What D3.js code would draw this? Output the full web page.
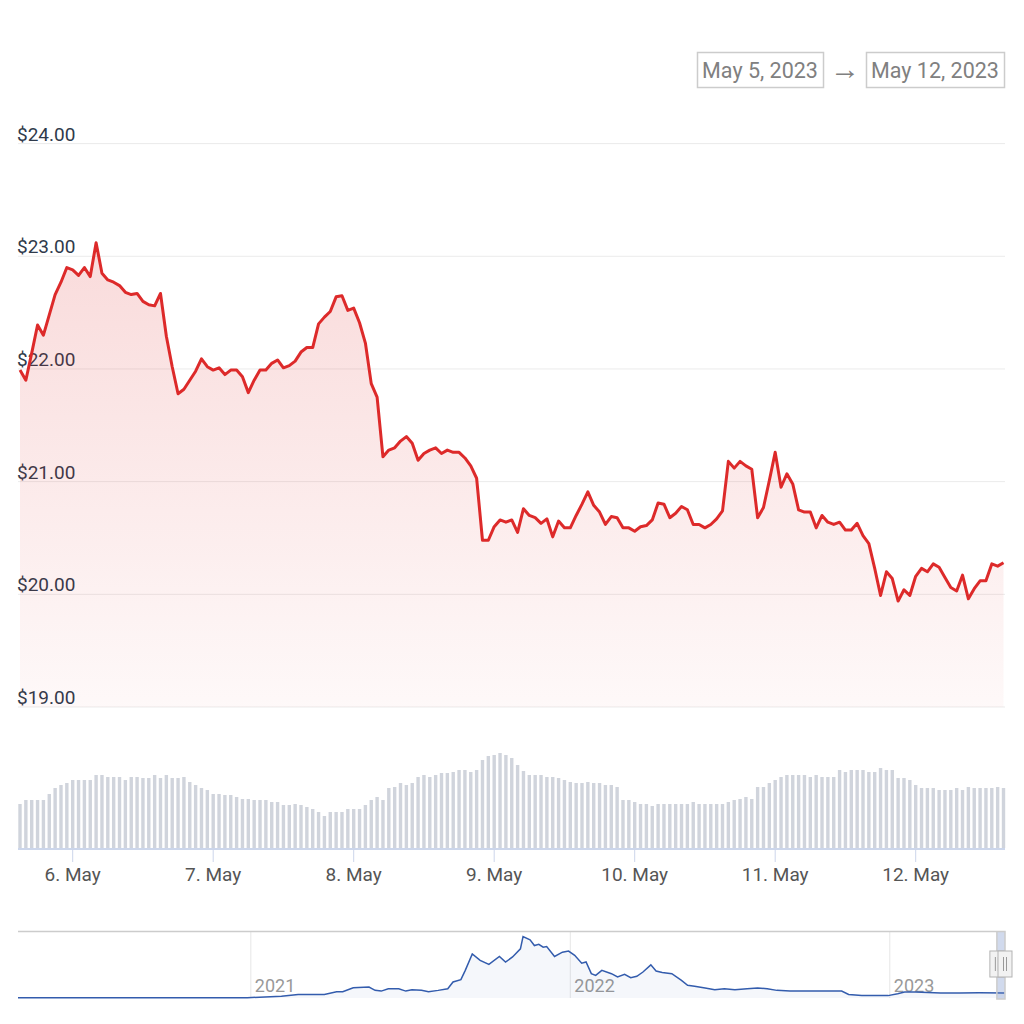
<!DOCTYPE html>
<html>
<head>
<meta charset="utf-8">
<title>SOL price chart</title>
<script src="https://cdn.jsdelivr.net/npm/d3@7"></script>
<style>
  body { margin: 0; background: #fff; }
  text { font-family: Roboto, "Noto Sans", sans-serif; }
</style>
</head>
<body>
<svg id="chart" width="1024" height="1024"></svg>
<script>
// hourly data, first point May 5 2023 15:00 UTC
const startTime = Date.UTC(2023, 4, 5, 15);

const prices = [
  21.99, 21.90, 22.14, 22.39, 22.30, 22.48, 22.66, 22.77, 22.90, 22.88,
  22.83, 22.90, 22.82, 23.12, 22.85, 22.79, 22.77, 22.74, 22.68, 22.66,
  22.67, 22.60, 22.57, 22.56, 22.67, 22.29, 22.02, 21.78, 21.82, 21.90,
  21.98, 22.09, 22.02, 21.99, 22.01, 21.95, 21.99, 21.99, 21.93, 21.79,
  21.90, 21.99, 21.99, 22.05, 22.08, 22.01, 22.03, 22.07, 22.15, 22.19,
  22.19, 22.40, 22.46, 22.51, 22.64, 22.65, 22.52, 22.54, 22.41, 22.23,
  21.87, 21.75, 21.22, 21.28, 21.30, 21.36, 21.40, 21.34, 21.19, 21.25,
  21.28, 21.30, 21.25, 21.28, 21.26, 21.26, 21.21, 21.14, 21.03, 20.48,
  20.48, 20.60, 20.66, 20.64, 20.66, 20.55, 20.76, 20.70, 20.68, 20.63,
  20.67, 20.51, 20.65, 20.59, 20.59, 20.70, 20.80, 20.91, 20.79, 20.73,
  20.62, 20.69, 20.68, 20.59, 20.59, 20.56, 20.60, 20.61, 20.66, 20.81,
  20.80, 20.68, 20.72, 20.78, 20.75, 20.62, 20.62, 20.59, 20.62, 20.67,
  20.74, 21.18, 21.12, 21.18, 21.14, 21.11, 20.68, 20.77, 21.01, 21.26,
  20.95, 21.07, 20.98, 20.75, 20.73, 20.73, 20.59, 20.70, 20.64, 20.62,
  20.64, 20.57, 20.57, 20.63, 20.52, 20.45, 20.23, 19.99, 20.20, 20.14,
  19.94, 20.04, 19.99, 20.16, 20.23, 20.20, 20.27, 20.24, 20.15, 20.06,
  20.03, 20.17, 19.96, 20.05, 20.12, 20.12, 20.27, 20.25, 20.28
];

// hourly volume, $M
const volumes = [
  44, 48, 48, 48, 48, 54, 60, 63, 65, 68,
  68, 68, 68, 73, 73, 71, 71, 71, 68, 71,
  71, 70, 70, 73, 70, 73, 70, 70, 71, 66,
  63, 60, 58, 54, 54, 53, 53, 51, 49, 49,
  48, 48, 48, 46, 46, 43, 43, 44, 43, 41,
  39, 36, 32, 36, 36, 36, 39, 39, 39, 43,
  48, 51, 48, 60, 61, 65, 63, 65, 71, 73,
  71, 73, 75, 75, 76, 78, 78, 76, 78, 88,
  92, 93, 95, 93, 90, 83, 77, 73, 73, 73,
  71, 71, 70, 68, 66, 65, 65, 66, 65, 65,
  63, 63, 61, 48, 48, 46, 44, 44, 42, 44,
  44, 44, 44, 44, 44, 46, 44, 44, 44, 44,
  44, 46, 48, 49, 51, 49, 61, 61, 65, 68,
  71, 73, 73, 73, 73, 71, 73, 71, 71, 71,
  78, 76, 78, 78, 78, 76, 76, 80, 78, 78,
  70, 70, 68, 63, 60, 60, 60, 58, 58, 58,
  60, 58, 61, 60, 60, 60, 60, 61, 60
];

const priceTicks = [19, 20, 21, 22, 23, 24];
const rangeLabels = ["May 5, 2023", "May 12, 2023"];

// long history for the navigator
const historyDates = [
  "2020-04-10", "2020-12-28", "2021-02-05", "2021-02-24", "2021-03-26", "2021-04-09",
  "2021-04-16", "2021-04-28", "2021-05-16", "2021-05-23", "2021-05-30", "2021-06-07",
  "2021-06-19", "2021-06-27", "2021-07-04", "2021-07-15", "2021-07-23", "2021-08-03",
  "2021-08-14", "2021-08-20", "2021-08-29", "2021-09-03", "2021-09-11", "2021-09-20",
  "2021-09-30", "2021-10-12", "2021-10-19", "2021-10-27", "2021-11-05", "2021-11-08",
  "2021-11-16", "2021-11-21", "2021-11-26", "2021-12-01", "2021-12-05", "2021-12-14",
  "2021-12-23", "2021-12-30", "2022-01-06", "2022-01-14", "2022-01-19", "2022-01-25",
  "2022-01-30", "2022-02-06", "2022-02-17", "2022-02-24", "2022-03-04", "2022-03-11",
  "2022-03-18", "2022-03-25", "2022-04-03", "2022-04-09", "2022-04-16", "2022-04-27",
  "2022-05-08", "2022-05-15", "2022-05-23", "2022-06-04", "2022-06-15", "2022-06-26",
  "2022-07-08", "2022-07-22", "2022-08-03", "2022-08-14", "2022-08-25", "2022-09-09",
  "2022-10-08", "2022-11-07", "2022-11-15", "2022-11-30", "2022-12-30", "2023-01-10",
  "2023-01-18", "2023-01-30", "2023-02-28", "2023-03-22", "2023-04-13", "2023-05-12"
];
const historyPrices = [
  0.8, 1.5, 7, 15, 15, 26,
  26, 43, 46, 32, 29, 39,
  39, 29, 35, 32, 26, 32,
  39, 67, 77, 116, 185, 158,
  141, 174, 151, 172, 206, 258,
  244, 220, 225, 213, 216, 174,
  192, 197, 179, 146, 151, 102,
  95, 116, 102, 88, 99, 85,
  91, 109, 139, 113, 107, 102,
  74, 53, 49, 42, 35, 39,
  35, 39, 42, 39, 32, 29,
  29, 29, 15, 10, 10, 18,
  25, 25, 21, 21, 22, 21
];
const yearTicks = ["2021-01-01", "2022-01-01", "2023-01-01"];

const svg = d3.select("#chart");

const hour = 3600 * 1000;
const points = prices.map((p, i) => ({ t: new Date(startTime + i * hour), price: p, vol: volumes[i] }));

const x = d3.scaleUtc()
  .domain([points[0].t, points[points.length - 1].t])
  .range([20, 1003.5]);
const y = d3.scaleLinear().domain([19, 24]).range([707, 143.6]);
const yVol = d3.scaleLinear().domain([0, 100]).range([848, 748]);

// gradient for the area
const defs = svg.append("defs");
const grad = defs.append("linearGradient")
  .attr("id", "priceFill")
  .attr("gradientUnits", "userSpaceOnUse")
  .attr("x1", 0).attr("y1", y(24)).attr("x2", 0).attr("y2", y(19));
grad.append("stop").attr("offset", 0).attr("stop-color", "#dd2a2a").attr("stop-opacity", 0.2);
grad.append("stop").attr("offset", 1).attr("stop-color", "#dd2a2a").attr("stop-opacity", 0.03);

// y grid + labels
const gridG = svg.append("g");
gridG.selectAll("line")
  .data(priceTicks)
  .enter()
  .append("line")
  .attr("x1", 18).attr("x2", 1005)
  .attr("y1", d => y(d)).attr("y2", d => y(d))
  .attr("stroke", "#ebebeb").attr("stroke-width", 1);
gridG.selectAll("text")
  .data(priceTicks)
  .enter()
  .append("text")
  .attr("x", 17)
  .attr("y", d => y(d) - 3)
  .attr("font-size", 19)
  .attr("fill", "#2f3a4b")
  .text(d => "$" + d3.format(".2f")(d));

// price area + line
const area = d3.area()
  .x(d => x(d.t))
  .y0(y(19))
  .y1(d => y(d.price));
svg.append("path")
  .datum(points)
  .attr("d", area)
  .attr("fill", "url(#priceFill)");

const line = d3.line()
  .x(d => x(d.t))
  .y(d => y(d.price));
svg.append("path")
  .datum(points)
  .attr("d", line)
  .attr("fill", "none")
  .attr("stroke", "#dd2a2a")
  .attr("stroke-width", 3)
  .attr("stroke-linejoin", "round");

// volume bars
const barW = 3.4;
svg.append("g")
  .selectAll("rect")
  .data(points)
  .enter()
  .append("rect")
  .attr("x", d => x(d.t) - barW / 2)
  .attr("y", d => yVol(d.vol))
  .attr("width", barW)
  .attr("height", d => yVol(0) - yVol(d.vol))
  .attr("fill", "#d0d4dc");

// x axis
const dayTicks = d3.utcDay.range(d3.utcDay.ceil(x.domain()[0]), x.domain()[1]);
const axisG = svg.append("g");
axisG.append("line")
  .attr("x1", 18).attr("x2", 1005)
  .attr("y1", 849).attr("y2", 849)
  .attr("stroke", "#ccd6eb").attr("stroke-width", 2);
axisG.selectAll(".tick")
  .data(dayTicks)
  .enter()
  .append("line")
  .attr("x1", d => x(d)).attr("x2", d => x(d))
  .attr("y1", 849).attr("y2", 862)
  .attr("stroke", "#ccd6eb").attr("stroke-width", 1);
axisG.selectAll("text")
  .data(dayTicks)
  .enter()
  .append("text")
  .attr("x", d => x(d))
  .attr("y", 881)
  .attr("text-anchor", "middle")
  .attr("font-size", 19)
  .attr("fill", "#555")
  .text(d => d3.utcFormat("%-d. %b")(d));

// date range boxes
const boxes = [{ x: 697, w: 126, label: rangeLabels[0] }, { x: 866, w: 138, label: rangeLabels[1] }];
const rangeG = svg.append("g");
rangeG.selectAll("rect")
  .data(boxes)
  .enter()
  .append("rect")
  .attr("x", d => d.x + 0.5).attr("y", 52.5)
  .attr("width", d => d.w).attr("height", 35)
  .attr("fill", "#fff").attr("stroke", "#cccccc").attr("stroke-width", 1.5);
rangeG.selectAll("text")
  .data(boxes)
  .enter()
  .append("text")
  .attr("x", d => d.x + d.w / 2)
  .attr("y", 78)
  .attr("text-anchor", "middle")
  .attr("font-size", 21.5)
  .attr("fill", "#808080")
  .text(d => d.label);
rangeG.append("text")
  .attr("x", 845).attr("y", 79)
  .attr("text-anchor", "middle")
  .attr("font-size", 30)
  .attr("fill", "#808080")
  .text("→");

// navigator
const hist = historyDates.map((d, i) => ({ t: new Date(d + "T00:00:00Z"), price: historyPrices[i] }));
const xNav = d3.scaleUtc()
  .domain([hist[0].t, new Date(Date.UTC(2023, 4, 12, 15))])
  .range([18, 1005]);
const yNav = d3.scaleLinear().domain([0, 260]).range([998, 936]);

const navG = svg.append("g");
const years = yearTicks.map(d => new Date(d + "T00:00:00Z"));
navG.selectAll(".yr")
  .data(years)
  .enter()
  .append("line")
  .attr("x1", d => xNav(d)).attr("x2", d => xNav(d))
  .attr("y1", 931).attr("y2", 998)
  .attr("stroke", "#e6e6e6").attr("stroke-width", 1);
navG.selectAll("text")
  .data(years)
  .enter()
  .append("text")
  .attr("x", d => xNav(d) + 4)
  .attr("y", 992)
  .attr("font-size", 18)
  .attr("fill", "#999")
  .text(d => d3.utcFormat("%Y")(d));

navG.append("path")
  .datum(hist)
  .attr("d", d3.area().x(d => xNav(d.t)).y0(998).y1(d => yNav(d.price)))
  .attr("fill", "#335cad").attr("fill-opacity", 0.05);
navG.append("path")
  .datum(hist)
  .attr("d", d3.line().x(d => xNav(d.t)).y(d => yNav(d.price)))
  .attr("fill", "none").attr("stroke", "#335cad").attr("stroke-width", 1.5);

// selected range band + outline
const selLeft = xNav(points[0].t) - 2;
const selRight = 1005;
navG.append("rect")
  .attr("x", selLeft).attr("y", 931)
  .attr("width", selRight - selLeft).attr("height", 68)
  .attr("fill", "rgba(102,133,194,0.3)");
navG.append("path")
  .attr("d", `M18,931.5H${selLeft}V999H${selRight}V931.5H${selLeft}`)
  .attr("fill", "none").attr("stroke", "#cccccc").attr("stroke-width", 1.5);

// handles
[selLeft, selRight].forEach(hx => {
  navG.append("rect")
    .attr("x", hx - 7).attr("y", 951)
    .attr("width", 14).attr("height", 26)
    .attr("fill", "#f2f2f2").attr("stroke", "#b3b3b3").attr("stroke-width", 1);
  [-1.5, 1.5].forEach(off => {
    navG.append("line")
      .attr("x1", hx + off).attr("x2", hx + off)
      .attr("y1", 957).attr("y2", 971)
      .attr("stroke", "#999").attr("stroke-width", 1);
  });
});
</script>
</body>
</html>
